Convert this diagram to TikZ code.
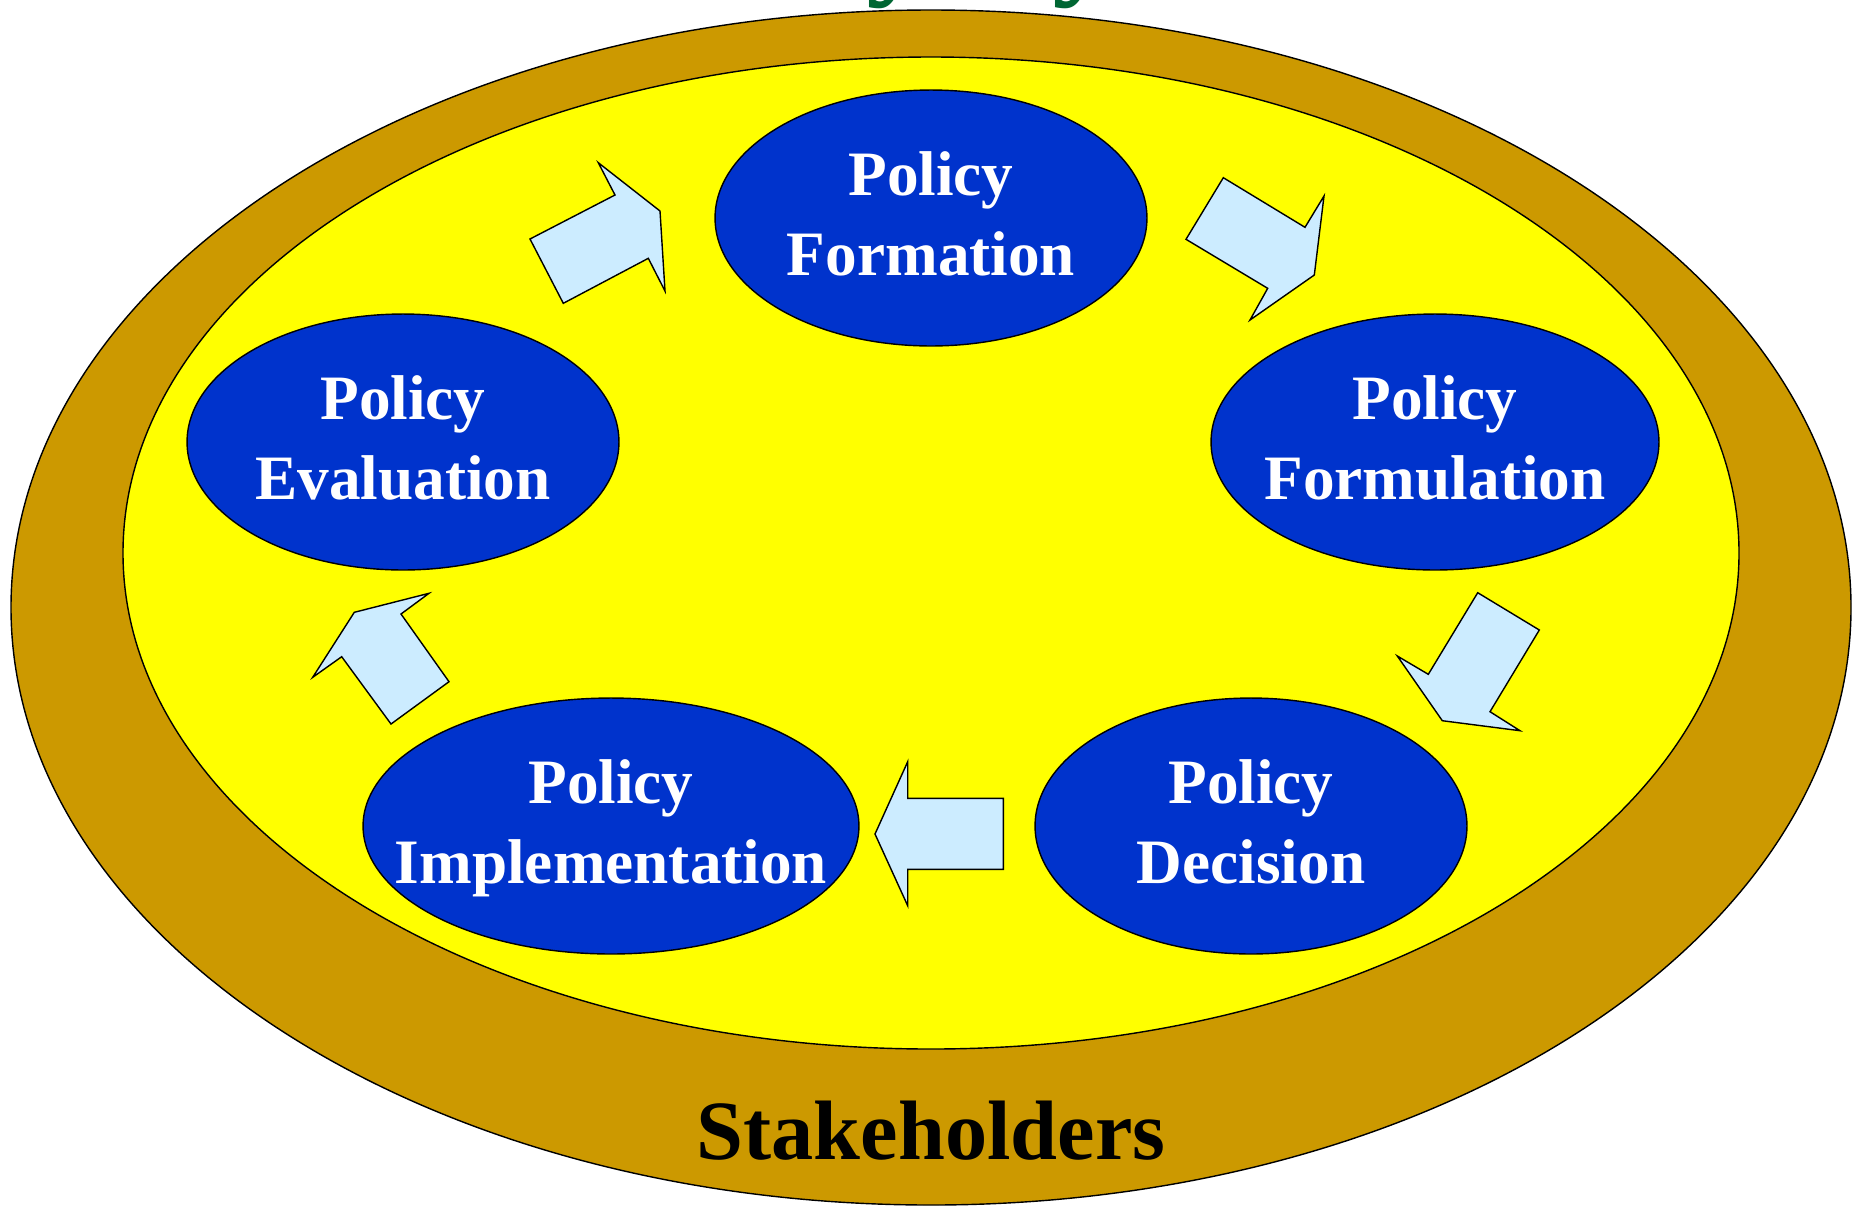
\documentclass[tikz,border=0pt]{standalone}
\usepackage{fontspec}
\setmainfont{Liberation Serif}
\usetikzlibrary{shapes.geometric}
\definecolor{ringgold}{RGB}{204,153,0}
\definecolor{stageblue}{RGB}{0,51,204}
\definecolor{arrowblue}{RGB}{204,236,255}
\definecolor{titlegreen}{RGB}{0,102,51}
\definecolor{innerfill}{RGB}{255,255,0}
\begin{document}
\begin{tikzpicture}[x=0.02cm,y=-0.02cm,
  stage/.style={ellipse, draw, line width=0.8pt, fill=stageblue, minimum height=5.12cm, minimum width=#1, inner sep=0pt},
  stagetext/.style={text=white, align=center, font=\fontsize{36}{45.5}\selectfont\bfseries, yshift=0.08cm},
  blockarrow/.style={draw, line width=0.8pt, fill=arrowblue, line join=miter}]
\useasboundingbox (0,0) rectangle (1852,1208);
% rings
\draw[line width=0.8pt, fill=ringgold] (931,607.5) ellipse [x radius=920, y radius=597.5];
\draw[line width=0.8pt, fill=innerfill] (931,553) ellipse [x radius=808, y radius=496];
\node[anchor=base, text=titlegreen, font=\fontsize{72}{80}\selectfont\bfseries] (title) at (931,-19){Policy Cycle};
% arrows
\draw[blockarrow] (530,239) -- (615,195) -- (598.3,162.7) -- (660,211) -- (665,291) -- (648.3,258.3) -- (563.3,303.3) -- cycle;
\draw[blockarrow] (1223.3,177.7) -- (1305,227.3) -- (1324,196) -- (1314.3,275) -- (1250,320) -- (1267.7,288.3) -- (1186,239.3) -- cycle;
\draw[blockarrow] (1477.7,592.7) -- (1539.3,630) -- (1490,711.7) -- (1520,730.7) -- (1442.3,720.7) -- (1397.3,656) -- (1428.3,674.3) -- cycle;
\draw[blockarrow] (1003.3,798.3) -- (1003.3,869.3) -- (907.7,869.3) -- (907.7,905.7) -- (875,834) -- (907.7,761.7) -- (907.7,798.3) -- cycle;
\draw[blockarrow] (449,681.7) -- (391,724) -- (341.7,656.7) -- (312.7,677.3) -- (354.3,612.3) -- (429,593.3) -- (401,614) -- cycle;
% stages
\node[stage=8.64cm] (formation) at (931,218){};
\node[stage=8.96cm] (formulation) at (1435,442){};
\node[stage=8.64cm] (decision) at (1251,826){};
\node[stage=9.92cm] (implementation) at (611,826){};
\node[stage=8.64cm] (evaluation) at (403,442){};
\node[stagetext] (formationtxt) at (formation){Policy\\Formation};
\node[stagetext] (formulationtxt) at (formulation){Policy\\Formulation};
\node[stagetext] (decisiontxt) at (decision){Policy\\Decision};
\node[stagetext, yshift=-0.12cm] (implementationtxt) at (implementation){Policy\\Implementation};
\node[stagetext] (evaluationtxt) at (evaluation){Policy\\Evaluation};
\node[anchor=base, font=\fontsize{48}{56}\selectfont\bfseries] (stakeholders) at (931,1159){Stakeholders};
\end{tikzpicture}
\end{document}
